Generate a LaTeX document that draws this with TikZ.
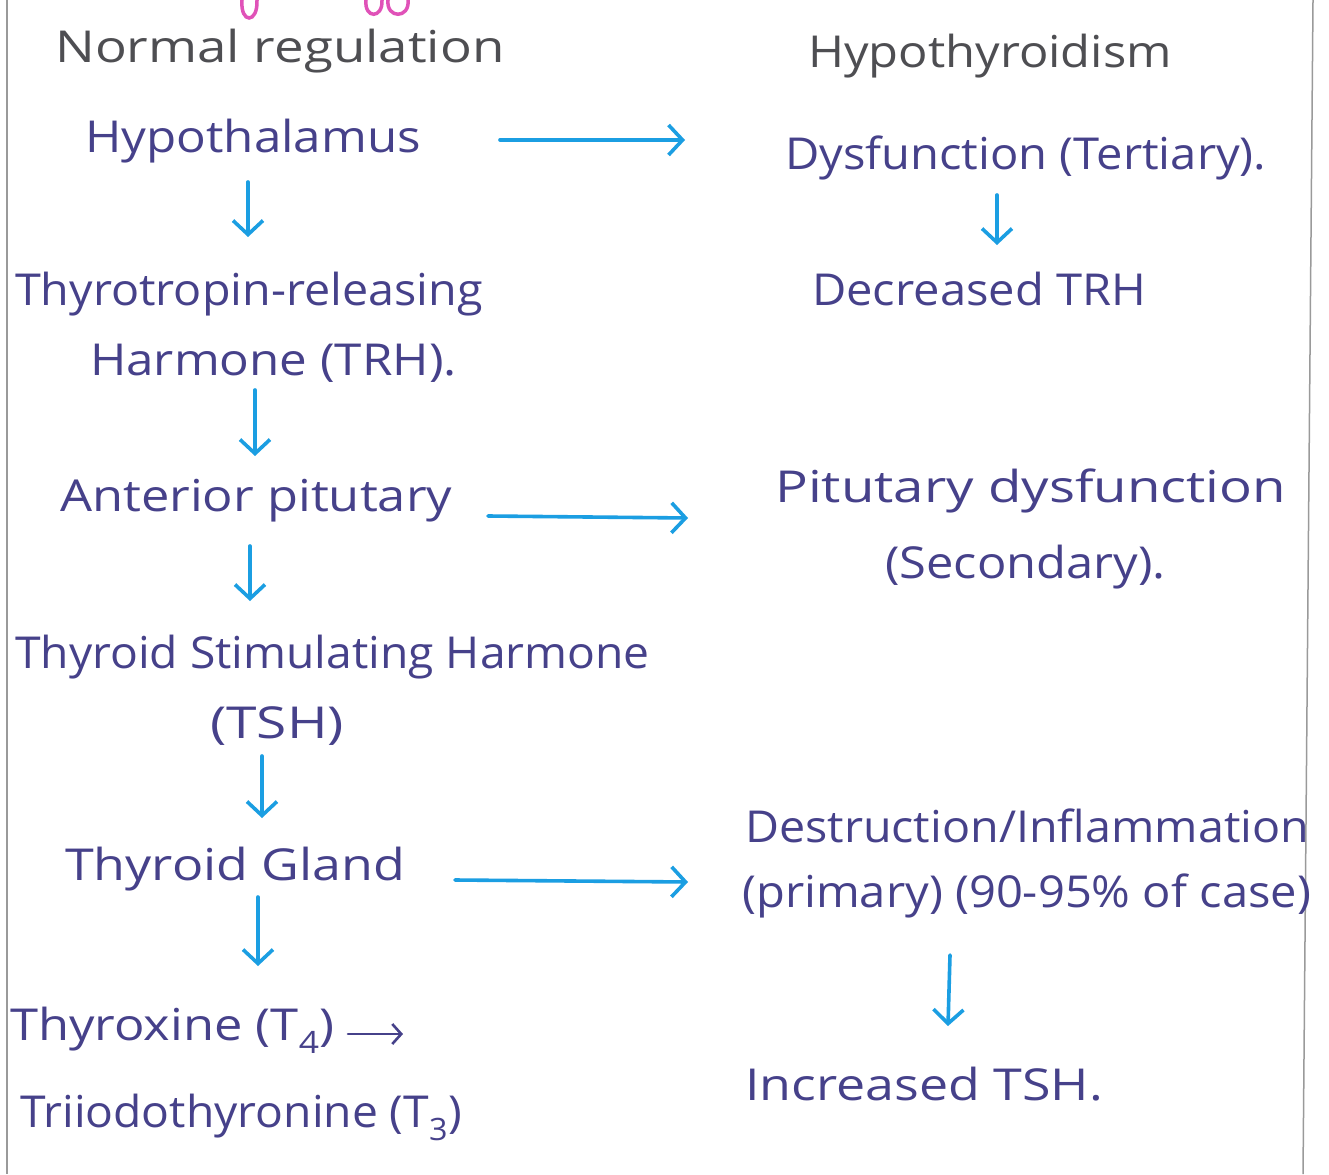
\documentclass[tikz,border=0pt]{standalone}
\usepackage{graphicx}
\usepackage{fontspec}
\setmainfont{Open Sans}
\usetikzlibrary{arrows.meta}
\definecolor{ink}{HTML}{46418A}
\definecolor{head}{HTML}{4E4E52}
\definecolor{flow}{HTML}{1B9EE2}
\definecolor{pinkink}{HTML}{E052B8}
\definecolor{rule}{HTML}{9A9A9A}
% widen a line of text horizontally only
\newcommand{\wide}[2]{\scalebox{#1}[1]{#2}}
\begin{document}
\begin{tikzpicture}[x=1pt,y=-1pt,
  txt/.style={anchor=base west,inner sep=0pt,text=ink,font=\fontsize{44}{50}\selectfont},
  hd/.style={txt,text=head},
  flowarrow/.style={draw=flow,line width=3.6pt,line cap=round,-{Straight Barb[length=14pt,width=30pt,line width=3.6pt]}},
  inkarrow/.style={draw=ink,line width=2.6pt,line cap=round,-{Straight Barb[length=9pt,width=20pt,line width=2.6pt]}}]
\useasboundingbox[fill=white] (0,0) rectangle (1329,1174);

% notebook page edges
\draw[rule,line width=1.5pt] (7,0) -- (7,1174);
\draw[rule,line width=1.5pt] (1313,0) -- (1303,1174);

% descenders from the line above, cut off by the page top
\draw[pinkink,line width=3.5pt,line cap=round] (242,0) .. controls (240,24) and (258,24) .. (257,0);
\draw[pinkink,line width=3.5pt,line cap=round] (366,0) .. controls (364,19) and (383,19) .. (382,0);
\draw[pinkink,line width=3.5pt,line cap=round] (388,0) .. controls (386,19) and (410,19) .. (408,0);

% headings
\node[hd] (nr) at (55,63) {\wide{1.2}{Normal regulation}};
\node[hd] (hy) at (808,68) {\wide{1.11}{Hypothyroidism}};

% left column: normal regulation
\node[txt] (hyp) at (85,153) {\wide{1.12}{Hypothalamus}};
\node[txt] (trha) at (15,305) {\wide{1.06}{Thyrotropin-releasing}};
\node[txt] (trhb) at (90,375) {\wide{1.12}{Harmone (TRH).}};
\node[txt] (ap) at (60,511) {\wide{1.15}{Anterior pitutary}};
\node[txt] (tsha) at (15,668) {\wide{1.05}{Thyroid Stimulating Harmone}};
\node[txt] (tshb) at (210,738) {\wide{1.25}{(TSH)}};
\node[txt] (tg) at (65,880) {\wide{1.18}{Thyroid Gland}};
\node[txt] (tf) at (10,1040) {\wide{1.15}{Thyroxine (T\textsubscript{4})}};
\node[txt] (tt) at (20,1127) {\wide{1.05}{Triiodothyronine (T\textsubscript{3})}};

% right column: hypothyroidism
\node[txt] (dys) at (785,170) {\wide{1.07}{Dysfunction (Tertiary).}};
\node[txt] (dtrh) at (812,305) {\wide{1.07}{Decreased TRH}};
\node[txt] (pd) at (775,502) {\wide{1.24}{Pitutary dysfunction}};
\node[txt] (sec) at (885,578) {\wide{1.11}{(Secondary).}};
\node[txt] (di) at (745,842) {\wide{1.06}{Destruction/Inflammation}};
\node[txt] (pri) at (742,907) {\wide{1.07}{(primary) (90-95\% of case)}};
\node[txt] (its) at (745,1100) {\wide{1.18}{Increased TSH.}};

% connector end points
\coordinate (h1s) at (500,140);  \coordinate (h1e) at (685,140);
\coordinate (h2s) at (488,516);  \coordinate (h2e) at (688,518);
\coordinate (h3s) at (455,880);  \coordinate (h3e) at (688,882);
\coordinate (v1s) at (248,182);  \coordinate (v1e) at (248,237);
\coordinate (v2s) at (255,390);  \coordinate (v2e) at (255,456);
\coordinate (v3s) at (250,546);  \coordinate (v3e) at (250,601);
\coordinate (v4s) at (262,756);  \coordinate (v4e) at (262,818);
\coordinate (v5s) at (258,897);  \coordinate (v5e) at (258,966);
\coordinate (r1s) at (997,195);  \coordinate (r1e) at (997,245);
\coordinate (r2s) at (950,955);  \coordinate (r2e) at (948,1026);
\coordinate (ts) at (348,1034);  \coordinate (te) at (403,1034);

% regulation chain
\draw[flowarrow] (v1s) -- (v1e);
\draw[flowarrow] (v2s) -- (v2e);
\draw[flowarrow] (v3s) -- (v3e);
\draw[flowarrow] (v4s) -- (v4e);
\draw[flowarrow] (v5s) -- (v5e);
\draw[inkarrow] (ts) -- (te);

% links to the disorder levels
\draw[flowarrow] (h1s) -- (h1e);
\draw[flowarrow] (h2s) -- (h2e);
\draw[flowarrow] (h3s) -- (h3e);
\draw[flowarrow] (r1s) -- (r1e);
\draw[flowarrow] (r2s) -- (r2e);
\end{tikzpicture}
\end{document}
